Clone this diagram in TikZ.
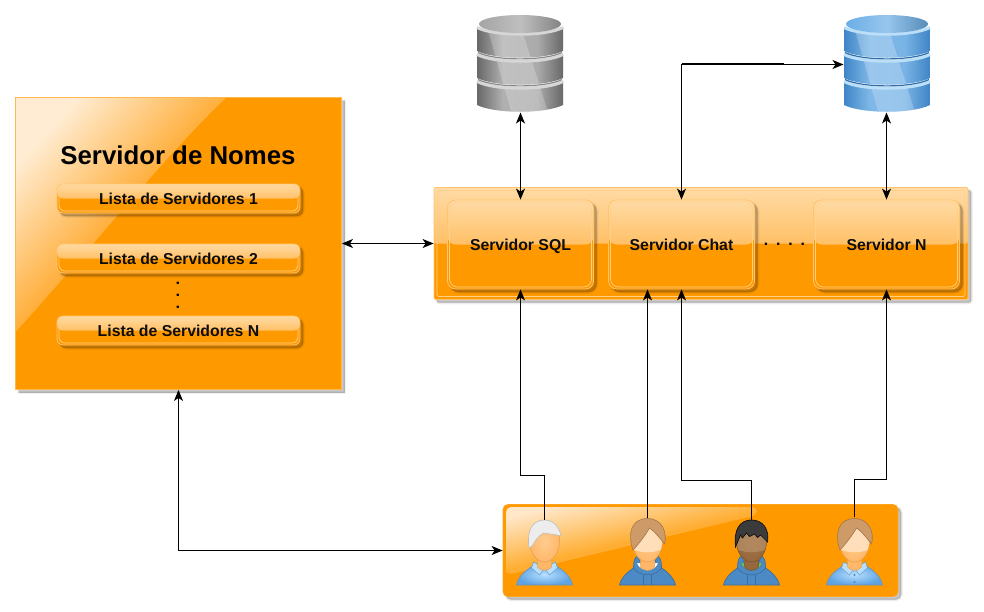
\documentclass[tikz,border=0pt]{standalone}
\usepackage{fontspec}
\setmainfont{Liberation Sans}
\usetikzlibrary{arrows.meta}
\definecolor{boxor}{HTML}{FF9900}
\definecolor{glosstop}{HTML}{FFDBA6}
\definecolor{glossmid}{HTML}{FFA526}
\definecolor{rimor}{HTML}{FFD08C}
\definecolor{rimout}{HTML}{FFC56E}
\newcommand\hx[1]{\definecolor{#1}{HTML}{#1}}
\hx{FFB84D}\hx{FFECD2}\hx{FFAE3A}\hx{FFA31F}\hx{FFE7C8}\hx{FFAE33}
\hx{686868}\hx{CDCDCD}\hx{D6D6D6}\hx{8A8A8A}\hx{A4A4A4}\hx{B0B0B0}\hx{ABABAB}
\hx{3F85C6}\hx{A9DAFB}\hx{BBDFF8}\hx{2F6EA8}\hx{6BAEE6}\hx{7FB8E8}\hx{7AB4E6}
\hx{B7E0FF}\hx{5FA3E3}\hx{6E93B0}\hx{6F9CC4}\hx{4C8AC6}\hx{3A6E9E}
\hx{FFB86A}\hx{FFCB90}\hx{E8A050}\hx{FFE4C4}\hx{96683D}\hx{BC9770}\hx{7A5230}\hx{A27446}
\hx{CD9A68}\hx{A07850}\hx{6CC05A}\hx{EDEDED}\hx{BDBDBD}\hx{3B3B3B}\hx{101010}\hx{4C84BE}
\tikzset{
  softshadow/.style={
    preaction={draw=black,fill=black,line width=3.5pt,draw opacity=.05,fill opacity=.05,transform canvas={xshift=3pt,yshift=-3pt}},
    preaction={draw=black,fill=black,line width=1.5pt,draw opacity=.07,fill opacity=.07,transform canvas={xshift=3pt,yshift=-3pt}},
    preaction={fill=black,fill opacity=.1,transform canvas={xshift=3pt,yshift=-3pt}}},
  plainbox/.style={softshadow,fill=boxor,draw=#1,line width=.8pt,inner sep=0pt},
  glossbox/.style n args={6}{softshadow,fill=boxor,draw=rimout,line width=.8pt,inner sep=0pt,rounded corners=#1,
    font=\fontsize{15.8}{18}\selectfont\bfseries,text=black!95,text height=13pt,text depth=1.8pt,
    minimum width=#2,minimum height=#3,
    path picture={
      \shade[top color=#4,bottom color=#5] (path picture bounding box.north west) rectangle (path picture bounding box.east);
      \draw[rimor,line width=.7pt,rounded corners=#1] ([shift={(#6,-#6)}]path picture bounding box.north west) rectangle ([shift={(-#6,#6)}]path picture bounding box.south east);
    }},
  listabox/.style={glossbox={6pt}{243pt}{29pt}{glosstop}{glossmid}{2pt}},
  serverbox/.style={glossbox={8pt}{146pt}{89pt}{glosstop}{glossmid}{2pt}},
  groupbox/.style={glossbox={2pt}{534pt}{112pt}{glosstop}{glossmid}{3pt}},
  titletext/.style={font=\fontsize{25.8}{30}\selectfont\bfseries,text=black,inner sep=0pt},
  dotstext/.style={font=\fontsize{15.8}{18}\selectfont\bfseries,text=black,inner sep=0pt},
  anchorbox/.style={minimum width=#1,inner sep=0pt,outer sep=0pt},
  link/.style={line width=1pt,black},
  >={Stealth[length=11pt,width=9pt,inset=3pt]},
}
\pgfdeclarehorizontalshading{dbgray}{100bp}{color(0bp)=(686868);color(25bp)=(686868);color(40bp)=(B0B0B0);color(60bp)=(ABABAB);color(75bp)=(686868);color(100bp)=(686868)}
\pgfdeclarehorizontalshading{dbblue}{100bp}{color(0bp)=(3F85C6);color(25bp)=(3F85C6);color(40bp)=(7FB8E8);color(60bp)=(7AB4E6);color(75bp)=(3F85C6);color(100bp)=(3F85C6)}
% database band: x, top y, shading, rim colour, bottom y
\newcommand\dbband[5]{%
  \shade[shading=#3]
    (#1-43,#2) -- (#1-43,#5) .. controls (#1-25,#5+9) and (#1+25,#5+9) .. (#1+43,#5) -- (#1+43,#2)
    .. controls (#1+25,#2+9) and (#1-25,#2+9) .. (#1-43,#2) -- cycle;
  \begin{scope}
    \clip (#1-43,#2) -- (#1-43,#5) .. controls (#1-25,#5+9) and (#1+25,#5+9) .. (#1+43,#5) -- (#1+43,#2)
    .. controls (#1+25,#2+9) and (#1-25,#2+9) .. (#1-43,#2) -- cycle;
    \fill[white,fill opacity=.22] (#1-32,30) -- (#1+2,30) -- (#1+29,115) -- (#1-8,115) -- cycle;
  \end{scope}
  \draw[#4,line width=3pt] (#1-43,#2+.5) .. controls (#1-25,#2+9.5) and (#1+25,#2+9.5) .. (#1+43,#2+.5);
}
\newcommand\database[4]{%
  \dbband{#1}{81}{#2}{#3}{105}
  \dbband{#1}{54}{#2}{#3}{78}
  \draw[#4,line width=1.2pt] (#1-42,79.5) .. controls (#1-25,88) and (#1+25,88) .. (#1+42,79.5);
  \dbband{#1}{27}{#2}{#3}{51}
  \draw[#4,line width=1.2pt] (#1-42,52.5) .. controls (#1-25,61) and (#1+25,61) .. (#1+42,52.5);
}
\newcommand\shirtpath{(-28,0) .. controls (-26,-10) and (-18,-15) .. (-9,-21) -- (9,-21) .. controls (18,-15) and (26,-10) .. (28,0) -- cycle}
% edge colour, centre colour, outline, upper-face colour, upper-face opacity
\newcommand\facedraw[5]{%
  \fill[#1] (-7,-32) rectangle (7,-18);
  \fill[#1,draw=#3,line width=.5pt] (-7,-25) -- (7,-25) -- (7,-18) .. controls (3,-13.5) and (-3,-13.5) .. (-7,-18) -- cycle;
  \shade[inner color=#2,outer color=#1,draw=#3,line width=.6pt] (0,-44) ellipse [x radius=15,y radius=21];
  \begin{scope}
    \clip (0,-44) ellipse [x radius=14.7,y radius=20.7];
    \fill[#4,fill opacity=#5] (-20,-70) -- (20,-70) -- (20,-38) .. controls (8,-31) and (-8,-31) .. (-20,-38) -- cycle;
  \end{scope}
}
\newcommand\shirt{%
  \shade[inner color=B7E0FF,outer color=5FA3E3,draw=6E93B0,line width=.6pt] \shirtpath;
  \fill[B7E0FF,draw=6F9CC4,line width=.5pt] (-11,-23) -- (0,-17) -- (-5,-10) -- (-13,-17) -- cycle;
  \fill[B7E0FF,draw=6F9CC4,line width=.5pt] (11,-23) -- (0,-17) -- (5,-10) -- (13,-17) -- cycle;
}
\newcommand\hoodie[1]{%
  \fill[4C8AC6,draw=3A6E9E,line width=.7pt] (-28,0) .. controls (-26,-8) and (-20,-13) .. (-14,-17) .. controls (-14,-24) and (-13,-27) .. (-10,-29)
    -- (-7,-22) -- (7,-22) -- (10,-29) .. controls (13,-27) and (14,-24) .. (14,-17) .. controls (20,-13) and (26,-8) .. (28,0) -- cycle;
  \draw[3A6E9E,line width=.6pt] (-14,-17) .. controls (-8,-8) and (8,-8) .. (14,-17);
  \fill[#1,draw=3A6E9E,line width=.3pt] (-11,-22) .. controls (-7,-12) and (7,-12) .. (11,-22) -- cycle;
  \draw[3A6E9E,line width=.5pt] (-4,-10) -- (-4,0) (4,-10) -- (4,0);
}
\newcommand\sweephair[2]{%
  \fill[#1,draw=#2,line width=.6pt] (-14.5,-35) .. controls (-20,-50) and (-17,-66.5) .. (0,-66.5) .. controls (15,-66.5) and (20,-52) .. (17,-41)
   .. controls (13,-46) and (8,-53) .. (2,-57) .. controls (-2,-50) and (-8,-42) .. (-14.5,-35) -- cycle;
}
\begin{document}
\begin{tikzpicture}[x=1pt,y=-1pt]
\useasboundingbox (0,0) rectangle (984,611);
\fill[white] (0,0) rectangle (984,611);

% name server
\node[plainbox=FFB84D,minimum width=326pt,minimum height=292pt] (ns) at (178.5,243.5) {};
\begin{scope}
  \clip (16,98) -- (226,98) .. controls (170,150) and (90,250) .. (16,331.5) -- cycle;
  \shade[left color=FFECD2,right color=FFAE3A,middle color=FFAE3A,shading angle=48] (16,98) rectangle (226,332);
\end{scope}
\node[titletext] (title) at (178,155) {Servidor de Nomes};
\node[listabox] (l1) at (178.5,198.5) {Lista de Servidores 1};
\node[listabox] (l2) at (178.5,258.5) {Lista de Servidores 2};
\node[listabox] (l3) at (178.5,330.5) {Lista de Servidores N};
\node[dotstext,rotate=90] (vd) at (178,295) {.\hspace{7.6pt}.\hspace{7.6pt}.};

% server group
\node[groupbox] (grp) at (701,243.5) {};
\node[serverbox] (sql) at (520.5,244.5) {Servidor SQL};
\node[serverbox] (chat) at (681.5,244.5) {Servidor Chat};
\node[serverbox] (srvn) at (886.5,244.5) {Servidor N};
\node[dotstext] (hd) at (784.5,244) {.\hspace{7.9pt}.\hspace{7.9pt}.\hspace{7.9pt}.};

% databases
\database{520}{dbgray}{D6D6D6}{8A8A8A}
\shade[left color=A4A4A4,right color=A4A4A4!80!black,middle color=A4A4A4!70!white] (520,24) ellipse [x radius=41,y radius=9];
\database{887}{dbblue}{BBDFF8}{2F6EA8}
\shade[left color=6BAEE6,right color=6BAEE6!80!black,middle color=6BAEE6!70!white] (887,24) ellipse [x radius=41,y radius=9];
\node[anchorbox=86pt,minimum height=98pt] (dba) at (520.5,63.5) {};
\node[anchorbox=86pt,minimum height=98pt] (dbb) at (886.5,63.5) {};

% user panel
\node[plainbox=FFA31F,rounded corners=5pt,minimum width=395pt,minimum height=92pt] (panel) at (700.5,550.5) {};
\begin{scope}
  \clip[rounded corners=5pt] (506,507) -- (757,507) -- (757,515) -- (507,575) -- (506,570) -- cycle;
  \shade[top color=FFE7C8,bottom color=FFAE33,middle color=FFAE33,shading angle=13] (506,507) rectangle (757,575);
\end{scope}

% users
\begin{scope}[shift={(544.5,585)}]
  \shirt
  \facedraw{FFB86A}{FFCB90}{E8A050}{white}{0}
  \fill[EDEDED,draw=BDBDBD,line width=.6pt] (-15.5,-37) .. controls (-18,-55) and (-12,-65) .. (0,-65) .. controls (10,-65) and (15,-57) .. (16.5,-49)
    .. controls (10,-51) and (4,-51) .. (-1,-52) .. controls (-6,-49) and (-9,-45) .. (-11,-41) .. controls (-12,-39) and (-14,-38) .. (-15.5,-37) -- cycle;
\end{scope}
\node[anchorbox=58pt,minimum height=65pt] (u1) at (544.5,552.5) {};
\begin{scope}[shift={(647.5,585)}]
  \hoodie{white}
  \facedraw{FFB86A}{FFCB90}{E8A050}{FFE4C4}{.85}
  \sweephair{CD9A68}{A07850}
\end{scope}
\node[anchorbox=58pt,minimum height=67pt] (u2) at (647.5,551.5) {};
\begin{scope}[shift={(751.5,585)}]
  \hoodie{6CC05A}
  \facedraw{96683D}{A27446}{7A5230}{BC9770}{.6}
  \fill[3B3B3B,draw=101010,line width=.7pt] (-16,-38) .. controls (-18,-55) and (-12,-65) .. (0,-65) .. controls (12,-65) and (18,-55) .. (16,-43)
    -- (12,-47) -- (9,-50) -- (6,-47.5) -- (3,-51) -- (-2,-48.5) -- (-5,-52) -- (-9,-47) -- (-11,-50) -- cycle;
\end{scope}
\node[anchorbox=58pt,minimum height=65pt] (u3) at (751.5,552.5) {};
\begin{scope}[shift={(854.5,585)}]
  \shirt
  \fill[4C84BE] (0,-10) circle [radius=1.1] (0,-3) circle [radius=1.1];
  \facedraw{FFB86A}{FFCB90}{E8A050}{FFE4C4}{.85}
  \sweephair{CD9A68}{A07850}
\end{scope}
\node[anchorbox=58pt,minimum height=68pt] (u4) at (854.5,551) {};

% connectors
\coordinate (b1) at (544.5,475.5);
\coordinate (b3) at (751.5,480.5);
\coordinate (b4) at (854.5,479.5);
\coordinate (c1) at (178.5,550.5);
\coordinate (c2) at (681.5,64.5);
\coordinate (c3) at (784,64);
\draw[link,<->] (ns.east) -- (grp.west);
\draw[link,<->] (dba.south) -- (sql.north);
\draw[link,<->] (dbb.south) -- (srvn.north);
\draw[link,<->] (chat.north) -- (chat.north |- c2) -- (dbb.west |- c2);
\draw[link,line width=2pt] (chat.north |- c3) -- (c3);
\draw[link,<->] (ns.south) -- (c1) -- (panel.west);
\draw[link,->] (u1.north) -- (b1) -| (sql.south);
\draw[link,->] (u2.north) -- (u2.north |- chat.south);
\draw[link,->] (u3.north) -- (b3) -| (chat.south);
\draw[link,->] (u4.north) -- (b4) -| (srvn.south);
\end{tikzpicture}
\end{document}
